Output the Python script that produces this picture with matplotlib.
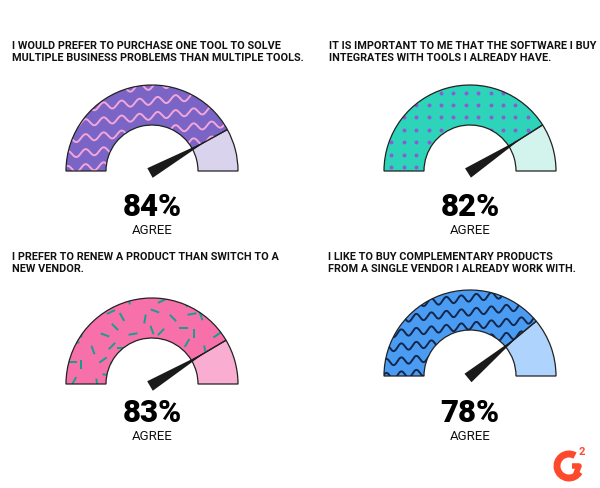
import numpy as np
import matplotlib
matplotlib.use("Agg")
import matplotlib.pyplot as plt
from matplotlib.patches import Wedge, Polygon, Arc

# survey results (% agree)
titles = [
    "I WOULD PREFER TO PURCHASE ONE TOOL TO SOLVE\nMULTIPLE BUSINESS PROBLEMS THAN MULTIPLE TOOLS.",
    "IT IS IMPORTANT TO ME THAT THE SOFTWARE I BUY\nINTEGRATES WITH TOOLS I ALREADY HAVE.",
    "I PREFER TO RENEW A PRODUCT THAN SWITCH TO A\nNEW VENDOR.",
    "I LIKE TO BUY COMPLEMENTARY PRODUCTS\nFROM A SINGLE VENDOR I ALREADY WORK WITH.",
]
values = [84, 82, 83, 78]
sublabel = "AGREE"

# layout (pixels)
centers = [(152, 171), (470, 171), (152, 384), (470, 376)]
title_pos = [(12, 41), (329, 41), (12, 252), (328, 252)]
pct_y = [192, 192, 398, 398]
R_OUT, R_IN = 86, 46

fill_cols = ["#7A64C6", "#2DD4B9", "#F870AA", "#4A9CF2"]
rest_cols = ["#D9D3EE", "#D3F3ED", "#F9ADD0", "#AED3FC"]
pat_cols = ["#F5A6D8", "#8A5CD3", "#169F8C", "#13264C"]
patterns = ["wave", "dots", "sprinkle", "wave_small"]

fig = plt.figure(figsize=(6, 4.88), dpi=100)
ax = fig.add_axes([0, 0, 1, 1])
ax.set_xlim(0, 600)
ax.set_ylim(488, 0)
ax.set_aspect("equal")
ax.axis("off")


def draw_pattern(kind, clip, cx, cy, col):
    if kind in ("wave", "wave_small"):
        period, amp, gap, lw = (18, 3.5, 15, 1.4) if kind == "wave" else (15, 3.5, 14, 1.4)
        xs = np.linspace(cx - R_OUT - 20, cx + R_OUT + 20, 600)
        for y0 in np.arange(cy + 20, cy - R_OUT - 30, -gap):
            ln, = ax.plot(xs, y0 + amp * np.sin(2 * np.pi * xs / period) - 0.1 * (xs - cx),
                          color=col, lw=lw, zorder=3)
            ln.set_clip_path(clip)
    elif kind == "dots":
        step = 12.4
        gx, gy = np.meshgrid(np.arange(cx - R_OUT - 5, cx + R_OUT + 5, step),
                             np.arange(cy - 4, cy - R_OUT - 10, -step))
        sc = ax.scatter(gx.ravel(), gy.ravel(), s=8, color=col, zorder=3, linewidths=0)
        sc.set_clip_path(clip)
    else:
        angs = [35, -60, 80, 10, -25, 60, -80, 20, 45, -10, 70, -45, 0, 90, -35]
        jit = [(2, -3), (-3, 2), (4, 4), (-2, -4), (0, 3), (3, -1), (-4, 1)]
        step = 16
        k = 0
        for j, yy in enumerate(np.arange(cy - 5, cy - R_OUT - 10, -step)):
            for xx in np.arange(cx - R_OUT - 5 + (j % 2) * 8, cx + R_OUT + 5, step):
                a = np.radians(angs[k % len(angs)])
                dx, dy = jit[k % len(jit)]
                px, py = xx + dx, yy + dy
                ln, = ax.plot([px - 4.5 * np.cos(a), px + 4.5 * np.cos(a)],
                              [py - 4.5 * np.sin(a), py + 4.5 * np.sin(a)],
                              color=col, lw=1.4, solid_capstyle="butt", zorder=3)
                ln.set_clip_path(clip)
                k += 1


for i, (cx, cy) in enumerate(centers):
    v = values[i]
    b = 180 * (1 - v / 100)  # boundary angle on screen
    filled = Wedge((cx, cy), R_OUT, -180, -b, width=R_OUT - R_IN,
                   facecolor=fill_cols[i], edgecolor="none", zorder=2)
    ax.add_patch(filled)
    draw_pattern(patterns[i], filled, cx, cy, pat_cols[i])
    ax.add_patch(Wedge((cx, cy), R_OUT, -180, -b, width=R_OUT - R_IN,
                       facecolor="none", edgecolor="#222222", lw=0.9, zorder=4))
    ax.add_patch(Wedge((cx, cy), R_OUT, -b, 0, width=R_OUT - R_IN,
                       facecolor=rest_cols[i], edgecolor="#222222", lw=0.9, zorder=2))

    # needle
    t = np.radians(b)
    ux, uy = np.cos(t), -np.sin(t)
    bx, by = cx - 2, cy + 2
    hw = 5.5
    tip = (cx + 62 * ux, cy + 62 * uy)
    ax.add_patch(Polygon([(bx - hw * uy, by + hw * ux), (bx + hw * uy, by - hw * ux), tip],
                         closed=True, facecolor="#1a1a1a", edgecolor="none", zorder=5))

    tx, ty = title_pos[i]
    ax.text(tx, ty, titles[i], ha="left", va="top", fontsize=7.8, fontweight="bold",
            family="Roboto", color="#111111", linespacing=1.3)
    ax.text(cx, pct_y[i], f"{v}%", ha="center", va="top", fontsize=22.5, fontweight="black",
            family="Roboto", color="#000000")
    ax.text(cx, pct_y[i] + 32, sublabel, ha="center", va="top", fontsize=9.5,
            family="Roboto", color="#111111")

# G2 logo
ax.add_patch(Arc((569, 466), 24, 24, theta1=-330, theta2=-60, lw=5, color="#FF492C"))
ax.plot([572, 579, 575], [466, 466, 476], color="#FF492C", lw=4, solid_capstyle="butt")
ax.text(582, 452, "2", ha="center", va="center", fontsize=8, fontweight="bold",
        family="Roboto", color="#FF492C")

fig.savefig("out.png", dpi=100, facecolor="white")
